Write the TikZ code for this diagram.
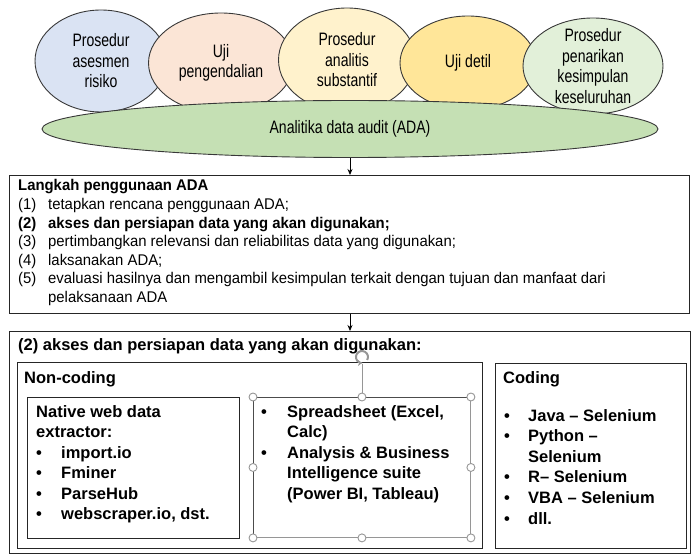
\documentclass[tikz,border=0pt]{standalone}
\usepackage{fontspec}
\setmainfont{Liberation Sans}
\newfontfamily\narrowfont[FakeStretch=0.78]{Liberation Sans}
\newfontfamily\stepfont[FakeStretch=0.96]{Liberation Sans}
\usetikzlibrary{shapes.geometric,arrows.meta}
\definecolor{riskblue}{RGB}{218,227,243}
\definecolor{controlpeach}{RGB}{251,229,214}
\definecolor{analyticyellow}{RGB}{255,242,204}
\definecolor{detailgold}{RGB}{255,230,153}
\definecolor{concludegreen}{RGB}{226,240,217}
\definecolor{adagreen}{RGB}{197,224,180}
\definecolor{edgegray}{RGB}{56,56,56}
\definecolor{handlegray}{RGB}{150,150,150}
\tikzset{
  proc/.style={ellipse, draw=edgegray, line width=0.9pt, inner sep=0pt},
  proctext/.style={font=\narrowfont\fontsize{18}{20.5}\selectfont, align=center, inner sep=0pt},
  flow/.style={-{Stealth[length=6pt,width=5pt]}, line width=0.8pt},
  frame/.style={draw=black!85, line width=0.9pt, anchor=north west, inner sep=0pt},
  steptext/.style={font=\stepfont\fontsize{15.5}{18.6}\selectfont, anchor=base west, inner sep=0pt},
  tooltext/.style={font=\bfseries\fontsize{16.5}{20.6}\selectfont, anchor=base west, inner sep=0pt},
  handle/.style={circle, draw=handlegray, fill=white, line width=0.9pt, minimum size=8pt, inner sep=0pt},
}
\begin{document}
\begin{tikzpicture}[x=1pt, y=-1pt]
\useasboundingbox (0,0) rectangle (694,556);
% audit procedures
\node[proc, fill=riskblue, minimum width=132pt, minimum height=102pt] (risk) at (101,61) {};
\node[proctext] (risk-text) at (risk) {Prosedur\\asesmen\\risiko};
\node[proc, fill=controlpeach, minimum width=145pt, minimum height=100pt] (control) at (221,63) {};
\node[proctext] (control-text) at (control) {Uji\\pengendalian};
\node[proc, fill=analyticyellow, minimum width=137pt, minimum height=104pt] (analytic) at (347,60) {};
\node[proctext] (analytic-text) at (analytic) {Prosedur\\analitis\\substantif};
\node[proc, fill=detailgold, minimum width=136pt, minimum height=94pt] (detail) at (468,63) {};
\node[proctext] (detail-text) at (detail) {Uji detil};
\node[proc, fill=concludegreen, minimum width=140pt, minimum height=96pt] (conclude) at (593,66) {};
\node[proctext] (conclude-text) at (conclude) {Prosedur\\penarikan\\kesimpulan\\keseluruhan};
\node[proc, fill=adagreen, minimum width=616pt, minimum height=57pt] (ada) at (350,129) {};
\node[proctext] (ada-text) at (ada) {Analitika data audit (ADA)};

% steps of ADA
\node[frame, minimum width=680pt, minimum height=138pt] (steps) at (9,175) {};
\node[steptext] (steps-list) at (18,191) {\begin{tabular}[t]{@{}p{30pt}@{}l@{}}
  \multicolumn{2}{@{}l@{}}{\textbf{Langkah penggunaan ADA}}\\
  (1) & tetapkan rencana penggunaan ADA;\\
  \textbf{(2)} & \textbf{akses dan persiapan data yang akan digunakan;}\\
  (3) & pertimbangkan relevansi dan reliabilitas data yang digunakan;\\
  (4) & laksanakan ADA;\\
  (5) & evaluasi hasilnya dan mengambil kesimpulan terkait dengan tujuan dan manfaat dari\\
      & pelaksanaan ADA
\end{tabular}};
\draw[flow] (ada.south) -- (ada.south |- steps.north);

% access and preparation
\node[frame, minimum width=681pt, minimum height=222pt] (access) at (9,331) {};
\node[tooltext] (access-title) at (18,351) {(2) akses dan persiapan data yang akan digunakan:};
\draw[flow] (steps.south -| ada.south) -- (ada.south |- access.north);

\node[frame, minimum width=465pt, minimum height=186pt] (noncoding) at (17,362) {};
\node[tooltext] (noncoding-title) at (24,383) {Non-coding};
\node[frame, minimum width=212pt, minimum height=141pt] (native) at (27,397) {};
\node[tooltext] (native-list) at (36,417) {\begin{tabular}[t]{@{}p{25pt}@{}l@{}}
  \multicolumn{2}{@{}l@{}}{Native web data}\\
  \multicolumn{2}{@{}l@{}}{extractor:}\\
  \textbullet & import.io\\
  \textbullet & Fminer\\
  \textbullet & ParseHub\\
  \textbullet & webscraper.io, dst.
\end{tabular}};
\node[frame, draw=black!70, minimum width=217pt, minimum height=140pt] (sheet) at (253,397) {};
\draw[handlegray, line width=0.9pt] (sheet.north east) -- (sheet.south east) -- (sheet.south west);
\node[tooltext] (sheet-list) at (261,417) {\begin{tabular}[t]{@{}p{26pt}@{}l@{}}
  \textbullet & Spreadsheet (Excel,\\
              & Calc)\\
  \textbullet & Analysis \& Business\\
              & Intelligence suite\\
              & (Power BI, Tableau)
\end{tabular}};

% selection handles
\node[circle, minimum size=14pt, inner sep=0pt] (sheet-rot) at (sheet.north |- 0,357) {};
\draw[handlegray, line width=0.9pt] (sheet-rot) -- (sheet.north);
\draw[handlegray, line width=2pt, -{Stealth[length=4pt,width=6pt]}]
  (sheet-rot.center) ++(-30:6pt) arc[start angle=-30, end angle=270, radius=6pt];
\node[handle] (sheet-nw) at (sheet.north west) {};
\node[handle] (sheet-n) at (sheet.north) {};
\node[handle] (sheet-ne) at (sheet.north east) {};
\node[handle] (sheet-w) at (sheet.west) {};
\node[handle] (sheet-e) at (sheet.east) {};
\node[handle] (sheet-sw) at (sheet.south west) {};
\node[handle] (sheet-s) at (sheet.south) {};
\node[handle] (sheet-se) at (sheet.south east) {};

\node[frame, minimum width=191pt, minimum height=185pt] (coding) at (495,363) {};
\node[tooltext] (coding-title) at (503,383) {Coding};
\node[tooltext] (coding-list) at (504,421) {\begin{tabular}[t]{@{}p{24pt}@{}l@{}}
  \textbullet & Java -- Selenium\\
  \textbullet & Python --\\
              & Selenium\\
  \textbullet & R-- Selenium\\
  \textbullet & VBA -- Selenium\\
  \textbullet & dll.
\end{tabular}};
\end{tikzpicture}
\end{document}
